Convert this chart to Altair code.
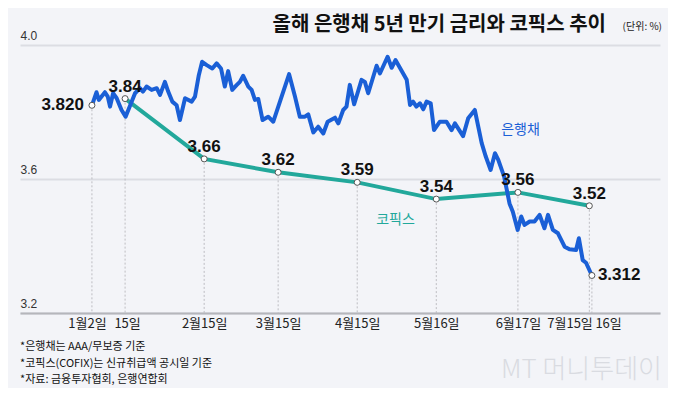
import altair as alt
import pandas as pd

# ---- data (x = day of year 2024) ----
bank_days = [2, 3.8, 4.7, 7.1, 8.2, 9.1, 10.3, 11.7, 13.6, 15.2,
             18.9, 20.8, 22.0, 23.4, 25.4, 27.4, 28.7, 30.6, 31.9, 33.5,
             35.2, 36.5, 38.5, 41.1, 42.4, 43.9, 45.2, 47.0, 49.2, 50.9,
             52.6, 54.1, 55.4, 57.0, 58.7, 60.0, 61.3, 63.3, 64.6, 65.9,
             67.2, 68.9, 71.1, 73.1, 79.3, 81.6, 83.5, 85.5, 86.8, 88.8,
             90.7, 92.7, 94.4, 97.3, 98.6, 100.5, 101.8, 103.1, 104.8, 107.7,
             109.0, 110.3, 113.6, 114.9, 117.9, 119.5, 121.0, 125.4, 126.7, 127.9,
             129.2, 130.6, 131.9, 133.2, 134.8, 136.1, 138.4, 141.0, 143.0, 144.3,
             147.5, 149.5, 152.1, 154.8, 156.4, 158.3, 160.0, 161.3, 163.6, 165.7,
             167.0, 168.9, 170.3, 171.6, 173.6, 175.5, 177.5, 179.4, 180.8, 182.7,
             184.7, 187.3, 189.2, 191.8, 192.9, 194.4, 195.7, 198]
bank_vals = [3.820, 3.859, 3.836, 3.859, 3.846, 3.816, 3.856, 3.841, 3.806, 3.786,
             3.856, 3.871, 3.861, 3.876, 3.866, 3.871, 3.851, 3.890, 3.861, 3.831,
             3.820, 3.776, 3.841, 3.831, 3.846, 3.910, 3.950, 3.940, 3.930, 3.945,
             3.930, 3.876, 3.922, 3.866, 3.880, 3.890, 3.908, 3.876, 3.866, 3.836,
             3.839, 3.776, 3.786, 3.771, 3.913, 3.846, 3.786, 3.786, 3.793, 3.739,
             3.756, 3.736, 3.771, 3.783, 3.766, 3.806, 3.816, 3.881, 3.823, 3.896,
             3.890, 3.856, 3.938, 3.915, 3.965, 3.932, 3.955, 3.896, 3.821, 3.831,
             3.816, 3.826, 3.808, 3.831, 3.826, 3.746, 3.771, 3.771, 3.746, 3.766,
             3.728, 3.781, 3.806, 3.707, 3.667, 3.627, 3.677, 3.657, 3.607, 3.527,
             3.502, 3.448, 3.488, 3.463, 3.473, 3.473, 3.493, 3.453, 3.493, 3.448,
             3.438, 3.398, 3.390, 3.388, 3.423, 3.358, 3.350, 3.312]

cofix_days = [15, 46, 75, 106, 137, 169, 197]
cofix_vals = [3.84, 3.66, 3.62, 3.59, 3.54, 3.56, 3.52]
cofix_labels = ["3.84", "3.66", "3.62", "3.59", "3.54", "3.56", "3.52"]

end_days = [2, 198]
end_vals = [3.820, 3.312]
end_labels = ["3.820", "3.312"]

tick_days = [2, 15, 46, 75, 106, 137, 169, 197, 198]
tick_labels = ["1월2일", "15일", "2월15일", "3월15일", "4월15일", "5월16일", "6월17일", "7월15일", "16일"]

y_ticks = [3.2, 3.6, 4.0]

series_names = ["은행채", "코픽스"]
series_label_days = [170, 121]
series_label_vals = [3.746, 3.478]

title_text = "올해 은행채 5년 만기 금리와 코픽스 추이"
unit_text = "(단위: %)"
notes = ["*은행채는 AAA/무보증 기준", "*코픽스(COFIX)는 신규취급액 공시일 기준", "*자료: 금융투자협회, 은행연합회"]

BLUE = "#1a5fd6"
TEAL = "#22a89b"
FONT = "Noto Sans CJK KR"
NUM_FONT = "Liberation Sans, Arial, sans-serif"

bank = pd.DataFrame({"day": bank_days, "val": bank_vals})
cofix = pd.DataFrame({"day": cofix_days, "val": cofix_vals, "label": cofix_labels})
ends = pd.DataFrame({"day": end_days, "val": end_vals, "label": end_labels})
marks_all = pd.concat([cofix[["day", "val"]], ends[["day", "val"]]], ignore_index=True)
series_df = pd.DataFrame({"day": series_label_days, "val": series_label_vals, "name": series_names})

label_expr = "".join(f"datum.value == {d} ? '{l}' : " for d, l in zip(tick_days, tick_labels)) + "''"

xscale = alt.Scale(domain=[-26.2, 224.7], nice=False, zero=False)
yscale = alt.Scale(domain=[3.2, 4.0], nice=False, zero=False)

xaxis = alt.Axis(
    values=tick_days, labelExpr=label_expr, title=None, ticks=False, grid=False,
    labelFont=FONT, labelFontSize=13, labelColor="#222", labelPadding=4,
    labelOverlap=False, labelFlush=False,
    labelAlign={"condition": [{"test": "datum.value == 197", "value": "right"},
                              {"test": "datum.value == 198", "value": "left"}],
                "value": "center"},
    labelOffset={"condition": [{"test": "datum.value == 2", "value": -5},
                               {"test": "datum.value == 15", "value": 2},
                               {"test": "datum.value == 197", "value": 3},
                               {"test": "datum.value == 198", "value": 3}],
                 "value": 0},
    domainColor="#b5b6bb", domainWidth=2,
)
yaxis = alt.Axis(
    values=y_ticks, format=".1f", title=None, ticks=False, tickSize=0, domain=False,
    grid=True, gridColor="#dcdde3", gridWidth=2,
    labelAlign="left", labelBaseline="bottom", labelPadding=0, labelOffset=-3,
    labelFont=NUM_FONT, labelFontSize=12, labelColor="#333",
)

X = alt.X("day:Q", scale=xscale, axis=xaxis)
Y = alt.Y("val:Q", scale=yscale, axis=yaxis)

rules = alt.Chart(marks_all).mark_rule(color="#bdbdc2", strokeDash=[2, 2], strokeWidth=1).encode(
    x=X, y=Y, y2=alt.datum(3.2),
)
teal_line = alt.Chart(cofix).mark_line(color=TEAL, strokeWidth=4).encode(x=X, y=Y)
blue_line = alt.Chart(bank).mark_line(color=BLUE, strokeWidth=4, strokeJoin="round").encode(x=X, y=Y)
points = alt.Chart(marks_all).mark_point(filled=True, fill="white", stroke="#555", strokeWidth=1,
                                         size=36, opacity=1).encode(x=X, y=Y)
num_style = dict(font=NUM_FONT, fontSize=17, fontWeight="bold", color="#111")
cofix_text = alt.Chart(cofix).mark_text(baseline="alphabetic", dy=-7, **num_style).encode(
    x=X, y=Y, text="label:N")
start_text = alt.Chart(ends.iloc[[0]]).mark_text(align="right", baseline="middle", dx=-8, **num_style).encode(
    x=X, y=Y, text="label:N")
end_text = alt.Chart(ends.iloc[[1]]).mark_text(align="left", baseline="middle", dx=6, **num_style).encode(
    x=X, y=Y, text="label:N")
series_text = alt.Chart(series_df).mark_text(font=FONT, fontSize=14, baseline="middle").encode(
    x=X, y=Y, text="name:N",
    color=alt.Color("name:N", scale=alt.Scale(domain=series_names, range=[BLUE, TEAL]), legend=None),
)

title = alt.Chart(pd.DataFrame({"t": [title_text]})).mark_text(
    font=FONT, fontSize=20, fontWeight="bold", color="#111", align="right", baseline="middle"
).encode(x=alt.value(586), y=alt.value(-20), text="t:N")
unit = alt.Chart(pd.DataFrame({"t": [unit_text]})).mark_text(
    font=FONT, fontSize=10, color="#222", align="right", baseline="middle"
).encode(x=alt.value(642), y=alt.value(-18), text="t:N")

note_layers = []
for i, note in enumerate(notes):
    note_layers.append(
        alt.Chart(pd.DataFrame({"t": [note]})).mark_text(
            font=FONT, fontSize=11, color="#111", align="left", baseline="middle"
        ).encode(x=alt.value(0), y=alt.value(302 + i * 16.5), text="t:N")
    )

watermark = alt.Chart(pd.DataFrame({"t": ["MT 머니투데이"]})).mark_text(
    font=FONT, fontSize=26, fontWeight=300, color="#d9dbe1", align="right", baseline="middle"
).encode(x=alt.value(642), y=alt.value(325), text="t:N")

chart = alt.layer(
    rules, teal_line, blue_line, points, cofix_text, start_text, end_text, series_text,
    title, unit, *note_layers, watermark
).properties(
    width=640, height=268,
    autosize=alt.AutoSizeParams(type="none"),
    padding={"left": 12, "top": 37, "right": 8, "bottom": 75},
    background="#f3f4f8",
).configure_view(stroke=None)

chart.save("out.html", embed_options={"renderer": "svg", "actions": False})
